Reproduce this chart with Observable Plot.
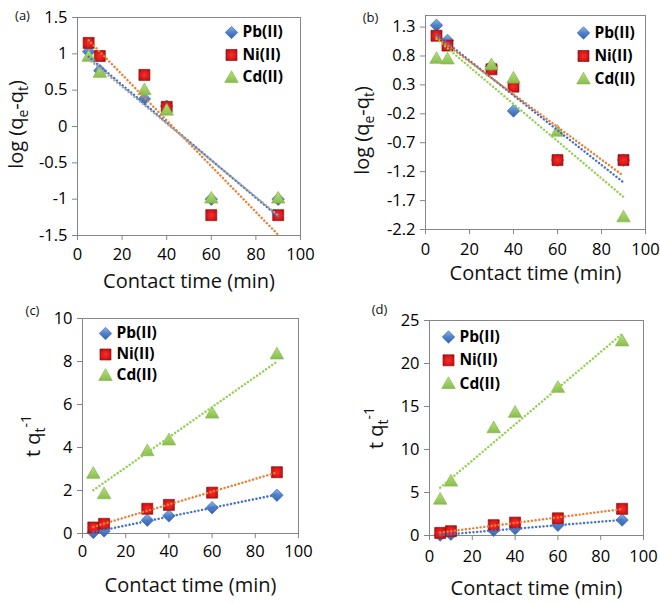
<!DOCTYPE html>
<html><head><meta charset="utf-8">
<script src="https://cdn.jsdelivr.net/npm/d3@7"></script>
<script src="https://cdn.jsdelivr.net/npm/@observablehq/plot@0.6"></script>
<style>
body{margin:0;background:#fff;}
#wrap{position:relative;width:660px;height:604px;overflow:hidden;}
</style></head><body>
<svg width="0" height="0" style="position:absolute"><defs>
<linearGradient id="gBlue" x1="0" y1="0" x2="0" y2="1"><stop offset="0" stop-color="#8db4e8"/><stop offset="0.5" stop-color="#4f81c9"/><stop offset="1" stop-color="#3563a8"/></linearGradient>
<radialGradient id="gRed" cx="0.5" cy="0.5" r="0.7"><stop offset="0" stop-color="#ff2a2a"/><stop offset="0.6" stop-color="#d41818"/><stop offset="1" stop-color="#8e0e0e"/></radialGradient>
<linearGradient id="gGreen" x1="0" y1="0" x2="0" y2="1"><stop offset="0" stop-color="#b8e07e"/><stop offset="1" stop-color="#88bd4c"/></linearGradient>
</defs></svg>
<div id="wrap"></div>
<script>
// ---- data ----
const time = [5, 10, 30, 40, 60, 90];
const seriesNames = ["Pb(II)", "Ni(II)", "Cd(II)"];
const xTicks = [0, 20, 40, 60, 80, 100];

// (a)
const aPb = [1.03, 0.77, 0.38, 0.28, -1.0, -1.0];
const aNi = [1.15, 0.97, 0.71, 0.27, -1.22, -1.22];
const aCd = [0.95, 0.73, 0.49, 0.21, -1.0, -1.0];
const aYTicks = [-1.5, -1, -0.5, 0, 0.5, 1, 1.5];
// (b)
const bPb = [1.33, 1.07, 0.62, -0.15, -1.0, -1.0];
const bNi = [1.15, 0.98, 0.57, 0.27, -1.0, -1.0];
const bCd = [0.74, 0.73, 0.63, 0.40, -0.52, -2.0];
const bYTicks = [-2.2, -1.7, -1.2, -0.7, -0.2, 0.3, 0.8, 1.3];
// (c)
const cPb = [0.05, 0.12, 0.62, 0.82, 1.2, 1.78];
const cNi = [0.28, 0.45, 1.15, 1.33, 1.9, 2.85];
const cCd = [2.75, 1.8, 3.8, 4.3, 5.55, 8.3];
const cYTicks = [0, 2, 4, 6, 8, 10];
// (d)
const dPb = [0.05, 0.15, 0.6, 0.8, 1.2, 1.8];
const dNi = [0.3, 0.5, 1.2, 1.5, 2.0, 3.1];
const dCd = [4.1, 6.2, 12.4, 14.2, 17.1, 22.5];
const dYTicks = [0, 5, 10, 15, 20, 25];

const xLabel = "Contact time (min)";

// ---- styles ----
const FONT = "'Open Sans', sans-serif";
const AX = "#868686";
const markerStyle = [
  {symbol: "diamond2", fill: "url(#gBlue)", stroke: "#3a68b0", r: 5.6},
  {symbol: "square", fill: "url(#gRed)", stroke: "#9a1010", r: 6.2},
  {symbol: "triangle", fill: "url(#gGreen)", stroke: "#86b84e", r: 5.0}
];
const lineColors = ["#4472c4", "#ed7d31", "#92d050"];

const rowsOf = (vals, name) => time.map((t, i) => ({t, v: vals[i], s: name}));

function panel(cfg) {
  const series = [cfg.pb, cfg.ni, cfg.cd].map((v, k) => rowsOf(v, seriesNames[k]));
  const lc = cfg.lineColors || lineColors;
  const marks = [
    Plot.frame({stroke: AX, strokeWidth: 1}),
    Plot.axisX(xTicks, {tickSize: 5, tickPadding: cfg.xPad, stroke: AX, fill: "#000", fontSize: 16.5, tickFormat: d => String(d), label: null}),
    Plot.axisY(cfg.yTicks, {tickSize: 5, tickPadding: 5, stroke: AX, fill: "#000", fontSize: 16.5, tickFormat: d => String(d), label: null})
  ];
  series.forEach((rows, k) => {
    const m = markerStyle[k];
    marks.push(Plot.dot(rows, {x: "t", y: "v", symbol: m.symbol, fill: m.fill, stroke: m.stroke, strokeWidth: 0.7, r: m.r}));
  });
  series.forEach((rows, k) => {
    marks.push(Plot.linearRegressionY(rows, {x: "t", y: "v", stroke: lc[k], strokeWidth: 2.4, strokeDasharray: "0.1,3.6", strokeLinecap: "round", ci: 0}));
  });
  // legend
  seriesNames.forEach((name, k) => {
    const m = markerStyle[k];
    const dy = cfg.leg.dy + k * cfg.leg.gap;
    marks.push(Plot.dot([name], {frameAnchor: "top-left", dx: cfg.leg.dx, dy: dy + (k === 2 ? 1 : 0), symbol: m.symbol, fill: m.fill, stroke: m.stroke, strokeWidth: 0.7, r: m.r}));
    marks.push(Plot.text([name], {frameAnchor: "top-left", dx: cfg.leg.dx + 11, dy, text: d => d, textAnchor: "start", lineAnchor: "middle", fontWeight: "bold", fontSize: 15.5, fill: "#000"}));
  });
  // panel letter
  marks.push(Plot.text([cfg.letter], {frameAnchor: "top-left", dx: cfg.letterPos[0], dy: cfg.letterPos[1], text: d => d, textAnchor: "middle", lineAnchor: "middle", fontSize: 13, fill: "#111"}));
  // x label
  marks.push(Plot.text([xLabel], {frameAnchor: "bottom", dy: cfg.xLabDy, text: d => d, textAnchor: "middle", lineAnchor: "middle", fontSize: 20, fill: "#111"}));
  // y label
  marks.push(Plot.text([cfg.yLabel], {frameAnchor: "left", dx: cfg.yLabPos[0], dy: cfg.yLabPos[1], rotate: -90, text: d => d, textAnchor: "middle", lineAnchor: "middle", fontSize: 20, fill: "#111"}));

  const svg = Plot.plot({
    width: cfg.w, height: cfg.h,
    marginLeft: cfg.m[0], marginRight: cfg.m[1], marginTop: cfg.m[2], marginBottom: cfg.m[3],
    x: {domain: [0, 100]},
    y: {domain: cfg.yDomain},
    style: {fontFamily: FONT, background: "transparent", overflow: "visible"},
    marks
  });
  // rich text (subscripts / superscripts) for the y label
  d3.select(svg).selectAll("text").filter(function() { return this.textContent === cfg.yLabel; }).each(function() {
    const t = d3.select(this);
    t.text(null);
    cfg.yParts.forEach(p => {
      const ts = t.append("tspan").text(p.s);
      if (p.dy) ts.attr("dy", p.dy);
      if (p.small) ts.attr("font-size", 14);
    });
  });
  svg.style.position = "absolute";
  svg.style.left = cfg.left + "px";
  svg.style.top = cfg.top + "px";
  document.getElementById("wrap").appendChild(svg);
}

const logParts = [
  {s: "log (q"}, {s: "e", dy: 5, small: true}, {s: "-q", dy: -5}, {s: "t", dy: 5, small: true}, {s: ")", dy: -5}
];
const tqParts = [
  {s: "t q"}, {s: "t", dy: 5, small: true}, {s: "-1", dy: -14, small: true}
];

panel({left: 0, top: 0, w: 330, h: 300, m: [77, 30, 17, 65], yDomain: [-1.5, 1.5], yTicks: aYTicks,
  pb: aPb, ni: aNi, cd: aCd, lineColors: ["#4472c4", "#ed7d31", "#a5a5a5"], xPad: 8,
  leg: {dx: 154, dy: 15, gap: 22.5}, letter: "(a)", letterPos: [-55, -2],
  xLabDy: 46, yLabel: "log (qe-qt)", yParts: logParts, yLabPos: [-61, -2]});
panel({left: 330, top: 0, w: 330, h: 300, m: [95, 15, 15, 71], yDomain: [-2.2, 1.5], yTicks: bYTicks,
  pb: bPb, ni: bNi, cd: bCd, xPad: 9,
  leg: {dx: 158, dy: 17.5, gap: 23}, letter: "(b)", letterPos: [-55, 2],
  xLabDy: 44, yLabel: "log (qe-qt)", yParts: logParts, yLabPos: [-63, 8]});
panel({left: 0, top: 300, w: 330, h: 304, m: [82, 32, 18, 71], yDomain: [0, 10], yTicks: cYTicks,
  pb: cPb, ni: cNi, cd: cCd, xPad: 7,
  leg: {dx: 23, dy: 15, gap: 21}, letter: "(c)", letterPos: [-50, -8],
  xLabDy: 52, yLabel: "t qt-1", yParts: tqParts, yLabPos: [-49, 10]});
panel({left: 330, top: 300, w: 330, h: 304, m: [99, 17, 20, 69], yDomain: [0, 25], yTicks: dYTicks,
  pb: dPb, ni: dNi, cd: dCd, xPad: 10,
  leg: {dx: 19, dy: 16.5, gap: 23.3}, letter: "(d)", letterPos: [-50, -11],
  xLabDy: 53, yLabel: "t qt-1", yParts: tqParts, yLabPos: [-53, 0]});
</script>
</body></html>
